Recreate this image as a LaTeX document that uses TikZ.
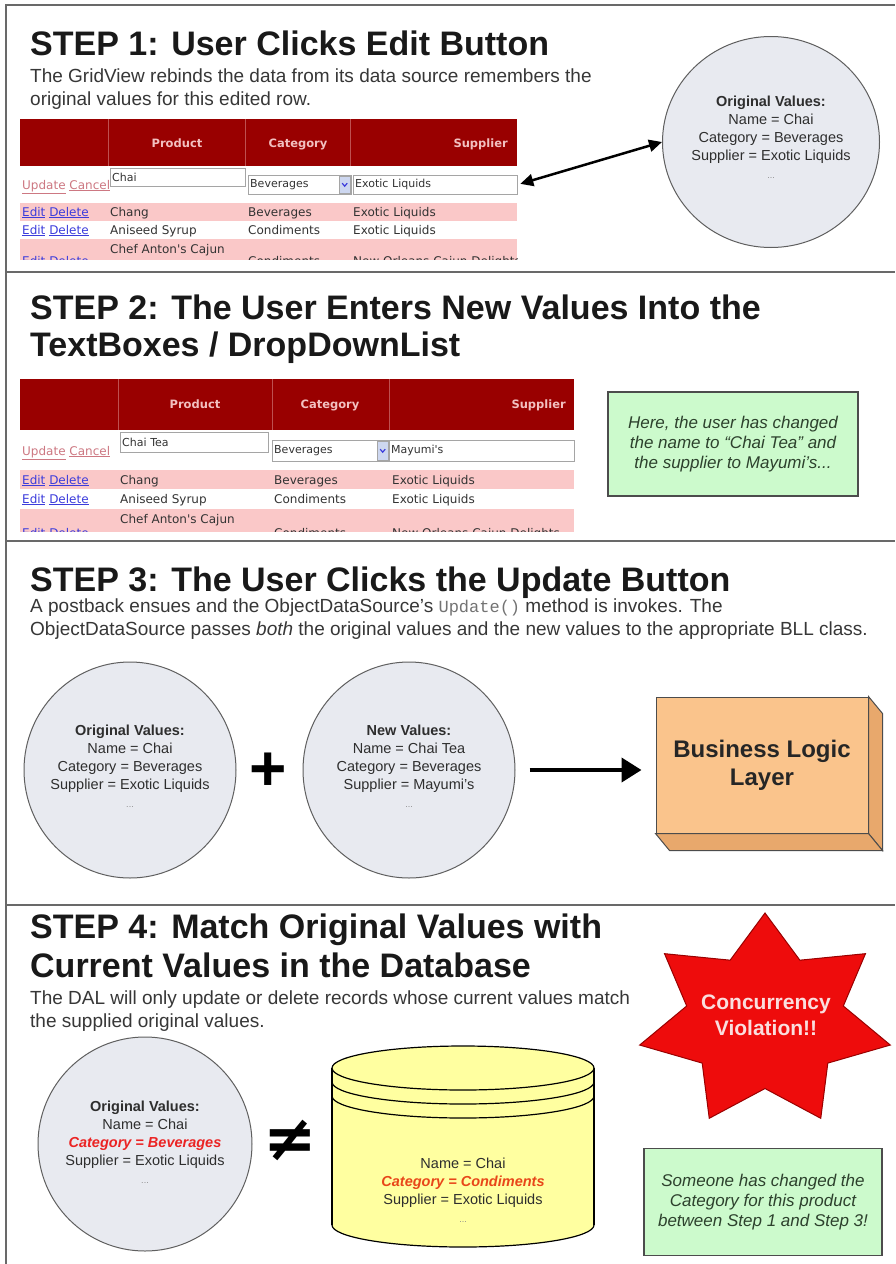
\documentclass[tikz,border=0pt]{standalone}
\usepackage{fontspec}
\setmainfont{Liberation Sans}
\newfontfamily\gridfont{DejaVu Sans}
\newfontfamily\symfont{DejaVu Sans}
\newfontfamily\codefont{Liberation Mono}
\usetikzlibrary{arrows.meta,shapes.geometric,positioning}

\definecolor{framegray}{RGB}{105,105,105}
\definecolor{hdrred}{RGB}{153,0,0}
\definecolor{hdrline}{RGB}{190,80,80}
\definecolor{hdrtxt}{RGB}{242,192,192}
\definecolor{rowpink}{RGB}{250,200,200}
\definecolor{linkblue}{RGB}{60,60,220}
\definecolor{linkpink}{RGB}{205,120,130}
\definecolor{boxgray}{RGB}{165,165,165}
\definecolor{ddblue}{RGB}{205,215,240}
\definecolor{valfill}{RGB}{232,234,240}
\definecolor{valline}{RGB}{95,95,95}
\definecolor{notefill}{RGB}{204,250,204}
\definecolor{notetxt}{RGB}{45,65,45}
\definecolor{bllfront}{RGB}{250,196,140}
\definecolor{bllside}{RGB}{232,168,108}
\definecolor{dbfill}{RGB}{255,255,160}
\definecolor{starred}{RGB}{238,12,12}
\definecolor{startxt}{RGB}{250,222,222}
\definecolor{warnred}{RGB}{235,35,35}
\definecolor{dbred}{RGB}{232,70,25}
\definecolor{descgray}{RGB}{55,55,55}

\newcommand{\morevals}{{\fontsize{9}{10}\selectfont\color{black!45}...}}

\begin{document}
\begin{tikzpicture}[x=1pt,y=-1pt,
  frame/.style={draw=framegray,line width=2.5pt},
  steptitle/.style={anchor=base west,inner sep=0pt,font=\bfseries\fontsize{34}{39}\selectfont,text=black!90},
  stepdesc/.style={anchor=base west,inner sep=0pt,font=\fontsize{19}{23}\selectfont,text=descgray},
  hdrcell/.style={anchor=base,inner sep=0pt,font=\gridfont\bfseries\fontsize{11.5}{13}\selectfont,text=hdrtxt},
  cell/.style={anchor=base west,inner sep=0pt,font=\gridfont\fontsize{12}{14}\selectfont,text=black!80},
  link/.style={cell,text=linkblue},
  editbox/.style={draw=boxgray,fill=white,anchor=north west,inner sep=2pt,align=left,
    font=\gridfont\fontsize{11}{13}\selectfont,text=black!80},
  ddbutton/.style={draw=boxgray,fill=ddblue,anchor=north east,inner sep=0pt,minimum width=11pt},
  valcircle/.style={ellipse,draw=valline,fill=valfill,line width=1pt},
  valtext/.style={align=center,font=\fontsize{14.5}{18}\selectfont,text=black!82},
  note/.style={draw=black!70,line width=1.5pt,fill=notefill,align=center,
    font=\itshape\fontsize{17}{20}\selectfont,text=notetxt},
  dblarrow/.style={line width=2.5pt,{Triangle[length=13pt,width=12pt]}-{Triangle[length=13pt,width=12pt]}},
  bigarrow/.style={line width=4pt,-{Triangle[length=20pt,width=24pt]}},
  violstar/.style={star,star points=7,star point ratio=1.6,minimum size=216pt,inner sep=0pt,
    fill=starred,draw=red!60!black,line width=1pt,xscale=1.19,transform shape}]

\useasboundingbox (0,0) rectangle (895,1264);
\fill[white] (0,0) rectangle (895,1264);

\draw[frame] (6,1264) -- (6,5) -- (895,5);
\draw[frame] (6,272) -- (895,272);
\draw[frame] (6,541) -- (895,541);
\draw[frame] (6,905) -- (895,905);

\node[steptitle] (t1) at (30,55) {STEP 1: User Clicks Edit Button};
\node[stepdesc] (d1a) at (30,82) {The GridView rebinds the data from its data source remembers the};
\node[stepdesc] (d1b) at (30,105) {original values for this edited row.};

\fill[hdrred] (20,119) rectangle (517,166);
\draw[hdrline] (108,119) -- (108,166);
\draw[hdrline] (245,119) -- (245,166);
\draw[hdrline] (350,119) -- (350,166);
\node[hdrcell] (h1p) at (177,147) {Product};
\node[hdrcell] (h1c) at (298,147) {Category};
\node[hdrcell,anchor=base east] (h1s) at (508,147) {Supplier};
\node[link,text=linkpink] (upd1) at (22,189) {\underline{Update} \underline{Cancel}};
\node[editbox,text width=131pt,minimum height=18pt] (prod1) at (110,168) {Chai};
\node[editbox,text width=99pt,minimum height=19pt] (cat1) at (248,175) {Beverages};
\node[editbox,text width=160pt,minimum height=19pt] (supp1) at (353,175) {Exotic Liquids};
\node[ddbutton,minimum height=17pt] (btn1) at ([xshift=-1pt,yshift=-1pt]cat1.north east) {};
\draw[linkblue,line width=1.2pt] ([xshift=-2.5pt,yshift=1.5pt]btn1.center) -- ([yshift=-1.5pt]btn1.center) -- ([xshift=2.5pt,yshift=1.5pt]btn1.center);
\fill[rowpink] (20,203) rectangle (517,221);
\node[link] (ed1a) at (22,216) {\underline{Edit} \underline{Delete}};
\node[cell] (p1a) at (110,216) {Chang};
\node[cell] (c1a) at (248,216) {Beverages};
\node[cell] (s1a) at (353,216) {Exotic Liquids};
\node[link] (ed1b) at (22,234) {\underline{Edit} \underline{Delete}};
\node[cell] (p1b) at (110,234) {Aniseed Syrup};
\node[cell] (c1b) at (248,234) {Condiments};
\node[cell] (s1b) at (353,234) {Exotic Liquids};
\begin{scope}
\clip (20,239) rectangle (517,259);
\fill[rowpink] (20,239) rectangle (517,262);
\node[link] (ed1c) at (22,265) {\underline{Edit} \underline{Delete}};
\node[cell] (p1c) at (110,253) {Chef Anton's Cajun};
\node[cell] (c1c) at (248,265) {Condiments};
\node[cell] (s1c) at (353,265) {New Orleans Cajun Delights};
\end{scope}

\node[valcircle,minimum width=217pt,minimum height=211pt] (orig1) at (771,142) {};
\node[valtext] (orig1txt) at (771,137) {\textbf{Original Values:}\\Name = Chai\\Category = Beverages\\Supplier = Exotic Liquids\\\morevals};
\draw[dblarrow,shorten <=3pt] (supp1.east) -- (orig1.west);

\node[steptitle] (t2a) at (30,319) {STEP 2: The User Enters New Values Into the};
\node[steptitle] (t2b) at (30,356) {TextBoxes / DropDownList};

\fill[hdrred] (20,379) rectangle (574,430);
\draw[hdrline] (118,379) -- (118,430);
\draw[hdrline] (272,379) -- (272,430);
\draw[hdrline] (389,379) -- (389,430);
\node[hdrcell] (h2p) at (195,408) {Product};
\node[hdrcell] (h2c) at (330,408) {Category};
\node[hdrcell,anchor=base east] (h2s) at (566,408) {Supplier};
\node[link,text=linkpink] (upd2) at (22,455) {\underline{Update} \underline{Cancel}};
\node[editbox,text width=144pt,minimum height=20pt] (prod2) at (120,432) {Chai Tea};
\node[editbox,text width=113pt,minimum height=21pt] (cat2) at (272,440) {Beverages};
\node[editbox,text width=181pt,minimum height=21pt] (supp2) at (389,440) {Mayumi's};
\node[ddbutton,minimum height=19pt] (btn2) at ([xshift=-1pt,yshift=-1pt]cat2.north east) {};
\draw[linkblue,line width=1.2pt] ([xshift=-2.5pt,yshift=1.5pt]btn2.center) -- ([yshift=-1.5pt]btn2.center) -- ([xshift=2.5pt,yshift=1.5pt]btn2.center);
\fill[rowpink] (20,470) rectangle (574,489);
\node[link] (ed2a) at (22,484) {\underline{Edit} \underline{Delete}};
\node[cell] (p2a) at (120,484) {Chang};
\node[cell] (c2a) at (274,484) {Beverages};
\node[cell] (s2a) at (392,484) {Exotic Liquids};
\node[link] (ed2b) at (22,503) {\underline{Edit} \underline{Delete}};
\node[cell] (p2b) at (120,503) {Aniseed Syrup};
\node[cell] (c2b) at (274,503) {Condiments};
\node[cell] (s2b) at (392,503) {Exotic Liquids};
\begin{scope}
\clip (20,509) rectangle (574,531);
\fill[rowpink] (20,509) rectangle (574,534);
\node[link] (ed2c) at (22,537) {\underline{Edit} \underline{Delete}};
\node[cell] (p2c) at (120,523) {Chef Anton's Cajun};
\node[cell] (c2c) at (274,537) {Condiments};
\node[cell] (s2c) at (392,537) {New Orleans Cajun Delights};
\end{scope}

\node[note,minimum width=250pt,minimum height=104pt] (note2) at (733,444) {Here, the user has changed\\the name to “Chai Tea” and\\the supplier to Mayumi's...};

\node[steptitle] (t3) at (30,591) {STEP 3: The User Clicks the Update Button};
\node[stepdesc] (d3a) at (30,612) {A postback ensues and the ObjectDataSource's {\codefont\fontsize{17}{23}\selectfont\color{black!55}Update()} method is invokes. The};
\node[stepdesc] (d3b) at (30,635) {ObjectDataSource passes \textit{both} the original values and the new values to the appropriate BLL class.};

\node[valcircle,minimum width=212pt,minimum height=216pt] (orig3) at (130,770) {};
\node[valtext] (orig3txt) at (130,766) {\textbf{Original Values:}\\Name = Chai\\Category = Beverages\\Supplier = Exotic Liquids\\\morevals};
\node[font=\bfseries\fontsize{64}{64}\selectfont] (plus3) at (268,772) {+};
\node[valcircle,minimum width=212pt,minimum height=216pt] (new3) at (409,770) {};
\node[valtext] (new3txt) at (409,766) {\textbf{New Values:}\\Name = Chai Tea\\Category = Beverages\\Supplier = Mayumi's\\\morevals};

\node[draw=black!70,fill=bllfront,line width=1pt,minimum width=212pt,minimum height=136pt,align=center,
  font=\bfseries\fontsize{24}{28}\selectfont,text=black!85] (bll) at (762,765) {Business Logic\\Layer};
\draw[fill=bllside,draw=black!70,line width=1pt] (bll.north east) -- ++(14,17) -- ([xshift=14pt,yshift=-17pt]bll.south east) -- (bll.south east) -- cycle;
\draw[fill=bllside,draw=black!70,line width=1pt] (bll.south west) -- (bll.south east) -- ([xshift=14pt,yshift=-17pt]bll.south east) -- ([xshift=14pt,yshift=-17pt]bll.south west) -- cycle;
\draw[bigarrow,shorten <=14pt,shorten >=14pt] (new3.east) -- (new3.east -| bll.west);

\node[steptitle] (t4a) at (30,938) {STEP 4: Match Original Values with};
\node[steptitle] (t4b) at (30,977) {Current Values in the Database};
\node[stepdesc] (d4a) at (30,1004) {The DAL will only update or delete records whose current values match};
\node[stepdesc] (d4b) at (30,1027) {the supplied original values.};

\node[valcircle,minimum width=214pt,minimum height=214pt] (orig4) at (145,1144) {};
\node[valtext] (orig4txt) at (145,1142) {\textbf{Original Values:}\\Name = Chai\\\textcolor{warnred}{\textbf{\textit{Category = Beverages}}}\\Supplier = Exotic Liquids\\\morevals};
\node[font=\symfont\bfseries\fontsize{64}{64}\selectfont] (neq4) at (290,1140) {≠};

\fill[dbfill] (332,1068) rectangle (594,1225);
\fill[dbfill] (463,1225) ellipse [x radius=131,y radius=22];
\begin{scope}
\clip (320,1225) rectangle (610,1262);
\draw[line width=1.2pt] (463,1225) ellipse [x radius=131,y radius=22];
\end{scope}
\draw[line width=1.2pt] (332,1068) -- (332,1225) (594,1068) -- (594,1225);
\draw[line width=1.2pt,fill=dbfill] (463,1068) ellipse [x radius=131,y radius=22];
\begin{scope}
\clip (320,1082) rectangle (610,1115);
\draw[line width=1.2pt] (463,1082) ellipse [x radius=131,y radius=22];
\end{scope}
\begin{scope}
\clip (320,1096) rectangle (610,1130);
\draw[line width=1.2pt] (463,1096) ellipse [x radius=131,y radius=22];
\end{scope}
\node[valtext] (db4txt) at (463,1190) {Name = Chai\\\textcolor{dbred}{\textbf{\textit{Category = Condiments}}}\\Supplier = Exotic Liquids\\\morevals};

\node[violstar] (viol) at (765,1021) {};
\node[font=\bfseries\fontsize{21}{26}\selectfont,text=startxt,align=center] (violtxt) at (766,1015) {Concurrency\\Violation!!};

\node[note,minimum width=238pt,minimum height=107pt] (note4) at (763,1202) {Someone has changed the\\Category for this product\\between Step 1 and Step 3!};
\end{tikzpicture}
\end{document}
